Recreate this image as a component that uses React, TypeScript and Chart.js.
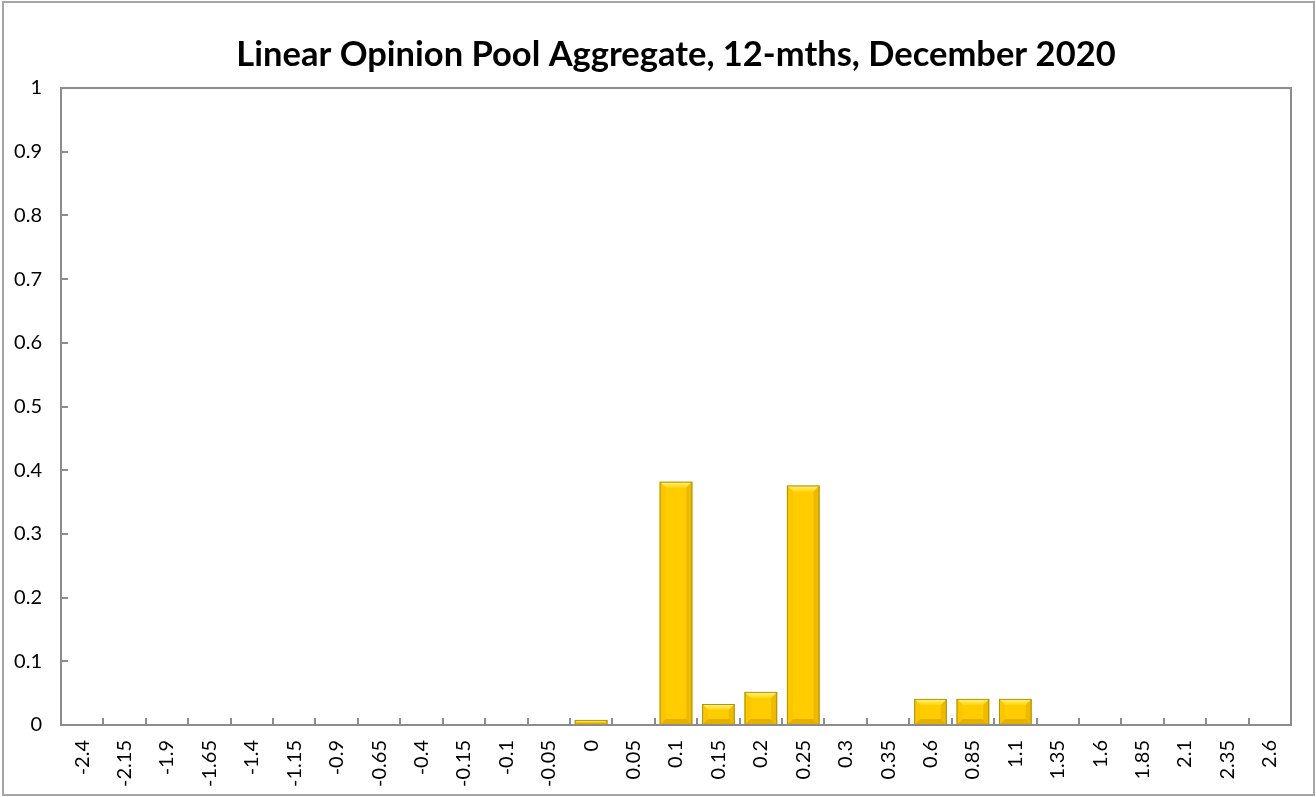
import React, { useEffect, useRef } from "react";
import { Chart, registerables } from "chart.js";

Chart.register(...registerables);

const categories = [
  "-2.4", "-2.15", "-1.9", "-1.65", "-1.4", "-1.15", "-0.9", "-0.65", "-0.4", "-0.15",
  "-0.1", "-0.05", "0", "0.05", "0.1", "0.15", "0.2", "0.25", "0.3", "0.35",
  "0.6", "0.85", "1.1", "1.35", "1.6", "1.85", "2.1", "2.35", "2.6",
];
const probabilities = [
  0, 0, 0, 0, 0, 0, 0, 0, 0, 0,
  0, 0, 0.008, 0.001, 0.382, 0.033, 0.052, 0.376, 0, 0,
  0.041, 0.041, 0.041, 0, 0, 0, 0, 0, 0,
];
const yTicks = [0, 0.1, 0.2, 0.3, 0.4, 0.5, 0.6, 0.7, 0.8, 0.9, 1];
const titleText = "Linear Opinion Pool Aggregate, 12-mths, December 2020";

const frame = {
  id: "frame",
  beforeDraw(chart: any) {
    const { ctx, width, height } = chart;
    ctx.save();
    ctx.fillStyle = "#ffffff";
    ctx.fillRect(0, 0, width, height);
    ctx.strokeStyle = "#a6a6a6";
    ctx.lineWidth = 2;
    ctx.strokeRect(3, 2, width - 5, height - 4);
    ctx.restore();
  },
  afterDatasetsDraw(chart: any) {
    const { ctx, chartArea, scales } = chart;
    const meta = chart.getDatasetMeta(0);
    ctx.save();
    meta.data.forEach((el: any) => {
      const p = el.getProps(["x", "y", "base", "width"], true);
      const l = p.x - p.width / 2;
      const r = p.x + p.width / 2;
      const t = Math.min(p.y, p.base);
      const b = Math.max(p.y, p.base);
      const h = b - t;
      if (h < 0.5) return;
      const bv = Math.min(6, h / 2, p.width / 2);
      const g = ctx.createLinearGradient(0, t, 0, t + bv);
      g.addColorStop(0, "#fff27a");
      g.addColorStop(1, "#ffd814");
      ctx.fillStyle = g;
      ctx.beginPath();
      ctx.moveTo(l, t); ctx.lineTo(r, t); ctx.lineTo(r - bv, t + bv); ctx.lineTo(l + bv, t + bv); ctx.closePath(); ctx.fill();
      ctx.fillStyle = "#f9c600";
      ctx.beginPath();
      ctx.moveTo(l, t); ctx.lineTo(l + bv, t + bv); ctx.lineTo(l + bv, b - bv); ctx.lineTo(l, b); ctx.closePath(); ctx.fill();
      ctx.fillStyle = "#edba00";
      ctx.beginPath();
      ctx.moveTo(r, t); ctx.lineTo(r - bv, t + bv); ctx.lineTo(r - bv, b - bv); ctx.lineTo(r, b); ctx.closePath(); ctx.fill();
      ctx.fillStyle = "#e3b000";
      ctx.beginPath();
      ctx.moveTo(l, b); ctx.lineTo(l + bv, b - bv); ctx.lineTo(r - bv, b - bv); ctx.lineTo(r, b); ctx.closePath(); ctx.fill();
      ctx.strokeStyle = "#a8921e";
      ctx.lineWidth = 1;
      ctx.strokeRect(l + 0.5, t + 0.5, r - l - 1, h - 1);
    });
    ctx.strokeStyle = "#8c8c8c";
    ctx.lineWidth = 2;
    ctx.strokeRect(chartArea.left, chartArea.top, chartArea.right - chartArea.left, chartArea.bottom - chartArea.top);
    const ys = scales.y;
    ctx.beginPath();
    yTicks.forEach((v) => {
      const py = Math.round(ys.getPixelForValue(v));
      ctx.moveTo(chartArea.left, py);
      ctx.lineTo(chartArea.left + 7, py);
    });
    const xs = scales.x;
    for (let i = 0; i < categories.length - 1; i++) {
      const px = Math.round((xs.getPixelForValue(i) + xs.getPixelForValue(i + 1)) / 2);
      ctx.moveTo(px, chartArea.bottom);
      ctx.lineTo(px, chartArea.bottom - 7);
    }
    ctx.stroke();
    ctx.restore();
  },
};

export default function App() {
  const ref = useRef<HTMLCanvasElement | null>(null);
  useEffect(() => {
    document.body.style.margin = "0";
    const chart = new Chart(ref.current as HTMLCanvasElement, {
      type: "bar",
      data: {
        labels: categories,
        datasets: [
          {
            data: probabilities,
            backgroundColor: "#ffcc00",
            borderWidth: 0,
            barPercentage: 0.77,
            categoryPercentage: 1,
          },
        ],
      },
      options: {
        animation: false,
        responsive: false,
        maintainAspectRatio: false,
        layout: { padding: { left: 0, right: 25, top: 0, bottom: 0 } },
        plugins: {
          legend: { display: false },
          tooltip: { enabled: false },
          title: {
            display: true,
            fullSize: false,
            text: titleText,
            color: "#000000",
            font: { family: "Lato", size: 34.5, weight: "bold" },
            padding: { top: 34, bottom: 12.6 },
          },
        },
        scales: {
          x: {
            offset: true,
            grid: { display: false, drawTicks: false },
            border: { display: false },
            ticks: {
              color: "#000000",
              font: { family: "Lato", size: 20 },
              minRotation: 90,
              maxRotation: 90,
              autoSkip: false,
              padding: 15,
            },
            afterFit: (s: any) => { s.height = 72; },
          },
          y: {
            min: 0,
            max: 1,
            grid: { display: false, drawTicks: false },
            border: { display: false },
            afterBuildTicks: (s: any) => { s.ticks = yTicks.map((v) => ({ value: v })); },
            ticks: {
              color: "#000000",
              font: { family: "Lato", size: 20 },
              padding: 19,
              callback: (v: any) => String(Math.round(Number(v) * 10) / 10),
            },
            afterFit: (s: any) => { s.width = 61; },
          },
        },
      },
      plugins: [frame],
    });
    return () => chart.destroy();
  }, []);
  return (
    <div style={{ width: 1316, height: 797 }}>
      <canvas ref={ref} width={1316} height={797} style={{ display: "block" }} />
    </div>
  );
}
